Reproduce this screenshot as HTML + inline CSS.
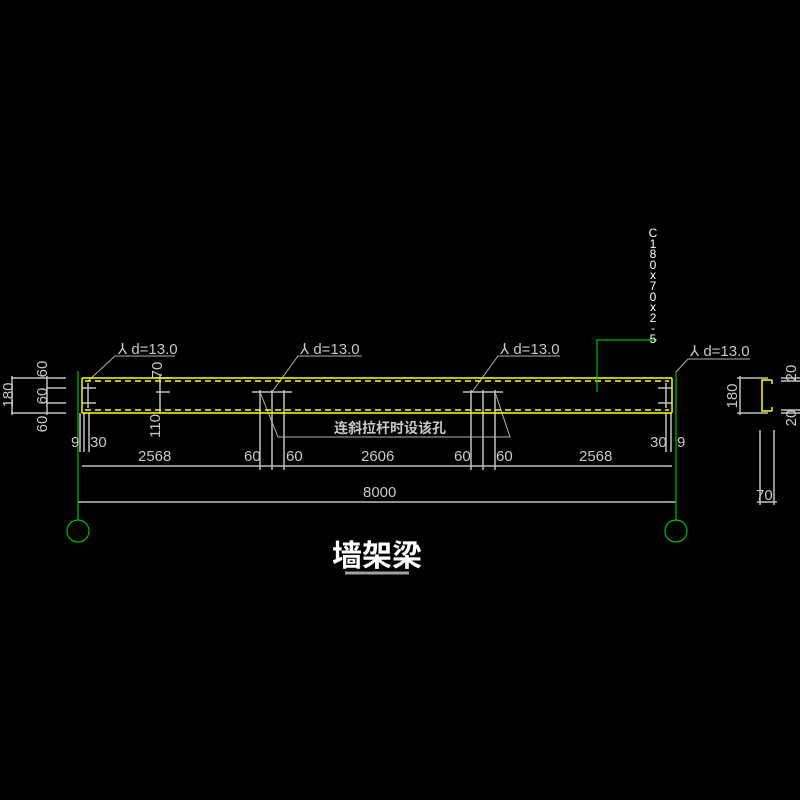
<!DOCTYPE html>
<html><head><meta charset="utf-8"><style>
html,body{margin:0;padding:0;background:#000;}
svg{display:block}
text{font-family:"Liberation Sans","Noto Sans CJK SC",sans-serif;fill:#c8c8c8}
</style></head><body>
<svg width="800" height="800" viewBox="0 0 800 800" xmlns="http://www.w3.org/2000/svg">
<rect width="800" height="800" fill="#000"/>
<g stroke="#c0c0c0" stroke-width="1.5" fill="none">
<line x1="11" y1="378" x2="66" y2="378"/><line x1="46" y1="388" x2="66" y2="388"/><line x1="46" y1="403" x2="66" y2="403"/><line x1="11" y1="413" x2="66" y2="413"/>
<line x1="12" y1="376" x2="12" y2="415"/><line x1="47" y1="376" x2="47" y2="415"/>
<line x1="80" y1="413" x2="80" y2="452"/><line x1="84" y1="413" x2="84" y2="452"/><line x1="89" y1="413" x2="89" y2="452"/>
<line x1="666" y1="413" x2="666" y2="452"/><line x1="671" y1="413" x2="671" y2="452"/>
<line x1="82" y1="466" x2="672" y2="466"/>
<line x1="78" y1="502" x2="676" y2="502"/>
<line x1="252" y1="392" x2="292" y2="392"/><line x1="260" y1="390" x2="260" y2="470"/><line x1="272" y1="390" x2="272" y2="470"/><line x1="284" y1="390" x2="284" y2="470"/>
<line x1="463" y1="392" x2="503" y2="392"/><line x1="471" y1="390" x2="471" y2="470"/><line x1="483" y1="390" x2="483" y2="470"/><line x1="495" y1="390" x2="495" y2="470"/>
<line x1="160" y1="375" x2="160" y2="413"/><line x1="156" y1="378" x2="170" y2="378"/><line x1="156" y1="392" x2="170" y2="392"/>
<line x1="82" y1="388" x2="96" y2="388"/><line x1="82" y1="403" x2="96" y2="403"/><line x1="88" y1="383" x2="88" y2="408"/>
<line x1="658" y1="388" x2="672" y2="388"/><line x1="658" y1="403" x2="672" y2="403"/><line x1="666" y1="383" x2="666" y2="408"/>
<line x1="737" y1="378" x2="768" y2="378"/><line x1="737" y1="413" x2="768" y2="413"/><line x1="740" y1="376" x2="740" y2="415"/>
<line x1="781" y1="378" x2="800" y2="378"/><line x1="781" y1="381" x2="800" y2="381"/><line x1="781" y1="410" x2="800" y2="410"/><line x1="781" y1="413" x2="800" y2="413"/>
<line x1="760" y1="430" x2="760" y2="505"/><line x1="774" y1="430" x2="774" y2="505"/><line x1="757" y1="502" x2="777" y2="502"/>
</g>
<g stroke="#b0b0b0" stroke-width="1" fill="none">
<polyline points="175,356 115,356 88,381"/>
<polyline points="362,356 298,356 272,392"/>
<polyline points="560,356 498,356 472,392"/>
<polyline points="750,359 688,359 676,372"/>
<polyline points="260,392 278,437 510,437 495,392"/>
</g>
<g stroke="#ffff00" fill="none" stroke-width="1.5">
<line x1="82" y1="378" x2="672" y2="378"/><line x1="82" y1="413" x2="672" y2="413"/>
<line x1="82" y1="378" x2="82" y2="413"/><line x1="672" y1="378" x2="672" y2="413"/>
<line x1="85" y1="381" x2="669" y2="381" stroke-dasharray="6,4"/>
<line x1="85" y1="410" x2="669" y2="410" stroke-dasharray="6,4"/>
<path d="M772 380 L762 380 L762 411 L772 411 M772 380 L772 384 M772 411 L772 407"/>
</g>
<g stroke="#00c000" fill="none" stroke-width="1.2">
<line x1="78" y1="371" x2="78" y2="520"/><circle cx="78" cy="531" r="11"/>
<line x1="676" y1="372" x2="676" y2="520"/><circle cx="676" cy="531" r="11"/>
<polyline points="597,392 597,340 657,340"/>
</g>
<g font-size="15">
<text x="118" y="354">⅄ d=13.0</text>
<text x="300" y="354">⅄ d=13.0</text>
<text x="500" y="354">⅄ d=13.0</text>
<text x="690" y="356">⅄ d=13.0</text>
<text x="138" y="461">2568</text>
<text x="244" y="461">60</text>
<text x="286" y="461">60</text>
<text x="361" y="461">2606</text>
<text x="454" y="461">60</text>
<text x="496" y="461">60</text>
<text x="579" y="461">2568</text>
<text x="363" y="497">8000</text>
<text x="71" y="447">9</text><text x="90" y="447">30</text>
<text x="650" y="447">30</text><text x="677" y="447">9</text>
<text x="756" y="500">70</text>
</g>
<g font-size="15">
<text transform="translate(13,395) rotate(-90)" text-anchor="middle">180</text>
<text transform="translate(47,369) rotate(-90)" text-anchor="middle">60</text>
<text transform="translate(47,396) rotate(-90)" text-anchor="middle">60</text>
<text transform="translate(47,424) rotate(-90)" text-anchor="middle">60</text>
<text transform="translate(162,370) rotate(-90)" text-anchor="middle">70</text>
<text transform="translate(160,426) rotate(-90)" text-anchor="middle">110</text>
<text transform="translate(737,396) rotate(-90)" text-anchor="middle">180</text>
<text transform="translate(796,373) rotate(-90)" text-anchor="middle">20</text>
<text transform="translate(796,418) rotate(-90)" text-anchor="middle">20</text>
</g>
<g font-size="12" text-anchor="middle" style="fill:#fff">
<text x="653" y="237" style="fill:#fff">C</text><text x="653" y="248" style="fill:#fff">1</text><text x="653" y="258" style="fill:#fff">8</text><text x="653" y="269" style="fill:#fff">0</text><text x="653" y="279" style="fill:#fff">x</text><text x="653" y="290" style="fill:#fff">7</text><text x="653" y="301" style="fill:#fff">0</text><text x="653" y="311" style="fill:#fff">x</text><text x="653" y="322" style="fill:#fff">2</text><text x="653" y="332" style="fill:#fff">-</text><text x="653" y="343" style="fill:#fff">5</text>
</g>
<text x="390" y="433" font-size="14" font-weight="bold" text-anchor="middle">连斜拉杆时设该孔</text>
<text x="377" y="566" font-size="30" font-weight="bold" text-anchor="middle" style="fill:#fff">墙架梁</text>
<line x1="345" y1="573" x2="409" y2="573" stroke="#a0a0a0" stroke-width="3"/>
</svg>
</body></html>
